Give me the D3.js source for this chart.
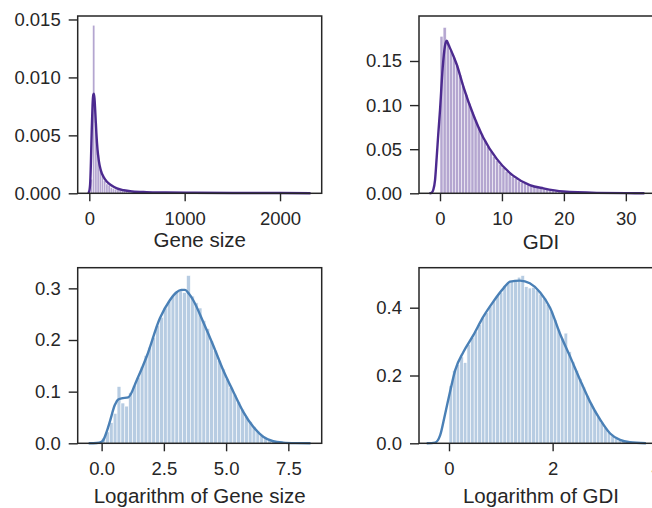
<!DOCTYPE html>
<html><head><meta charset="utf-8">
<script src="https://cdn.jsdelivr.net/npm/d3@7"></script>
<style>html,body{margin:0;padding:0;background:#fff;} svg{display:block;font-family:"Liberation Sans",Arial,sans-serif;}</style>
</head><body><div id="chart"></div>
<script>
// ---------------- DATA ----------------
// Panel 1: Gene size histogram (density), 100 bins
const geneSizeBinStart = 12;
const geneSizeBinWidth = 23.1;
const geneSizeHist = [
 0.0012, 0.0145, 0.0060, 0.0033, 0.0021, 0.0015, 0.0011, 0.0008, 0.0007, 0.0005,
 0.00042,0.00036,0.0003, 0.00026,0.00022,0.0002, 0.00018,0.00015,0.00013,0.00012,
 0.0001, 0.00009,0.00008,0.00008,0.00007,0.00006,0.00006,0.00005,0.00005,0.00004,
 0.00004,0.00004,0.00003,0.00003,0.00003,0.00003,0.00002,0.00002,0.00002,0.00002,
 0.00002,0.00002,0.00002,0.00002,0.00001,0.00001,0.00002,0.00001,0.00001,0.00001,
 0.00001,0.00001,0.00001,0.00001,0.00001,0.00001,0.00001,0.00001,0.00001,0.00001,
 0.00001,0.00001,0.00001,0.00001,0.00001,0.00001,0.00001,0.00001,0.00001,0.00001,
 0.00001,0.00001,0.00001,0.00001,0.00001,0.00001,0.00001,0.00001,0.00001,0.00001,
 0.00001,0.00001,0.00001,0.00001,0.00001,0.00001,0.00001,0.00001,0.00001,0.00001,
 0.00001,0.00001,0.00001,0.00001,0.00001,0.00001,0.00001,0.00001,0.00001,0.00002
];
const geneSizeKde = [
 [-12,0],[0,0.0002],[10,0.001],[18,0.0030],[26,0.0056],[34,0.0076],[42,0.0085],[49,0.0086],
 [56,0.0080],[64,0.0068],[74,0.0052],[86,0.0038],[100,0.0028],[120,0.0020],[150,0.0014],
 [185,0.0010],[230,0.0007],[290,0.00042],[360,0.00026],[450,0.00016],[600,0.0001],
 [800,0.00007],[1100,0.00005],[1500,0.00003],[2000,0.00002],[2320,0]
];
const geneSizeXTicks = [0, 1000, 2000];
const geneSizeYTicks = [0, 0.005, 0.010, 0.015];

// Panel 2: GDI histogram, 60 bins
const gdiBinStart = 0;
const gdiBinWidth = 0.5;
const gdiHist = [
 0.178,0.188,0.171,0.162,0.154,0.145,0.134,0.122,0.112,0.102,
 0.092,0.083,0.075,0.067,0.060,0.053,0.047,0.042,0.037,0.033,
 0.029,0.025,0.022,0.019,0.017,0.014,0.012,0.011,0.0095,0.0085,
 0.0075,0.0066,0.0058,0.0051,0.0044,0.0038,0.0033,0.0028,0.0024,0.0021,
 0.0018,0.0015,0.0013,0.0011,0.0010,0.0008,0.0007,0.0006,0.0005,0.0005,
 0.0004,0.0004,0.0003,0.0003,0.0002,0.0002,0.0002,0.0001,0.0001,0.0001
];
const gdiKde = [
 [-1.7,0],[-1.3,0.001],[-1.08,0.004],[-0.8,0.015],[-0.53,0.041],[-0.25,0.070],[0,0.094],
 [0.43,0.142],[0.8,0.167],[1.08,0.173],[1.4,0.168],[2.15,0.156],[2.7,0.146],[3.77,0.121],
 [5.38,0.089],[7.0,0.063],[9.16,0.039],[11.8,0.020],[14.5,0.0094],[16.7,0.0056],
 [19.9,0.0020],[25.3,0.0005],[30,0.0002],[33,0]
];
const gdiXTicks = [0, 10, 20, 30];
const gdiYTicks = [0, 0.05, 0.10, 0.15];

// Panel 3: Logarithm of Gene size, 50 bins
const logGeneBinStart = 0;
const logGeneBinWidth = 0.155;
const logGeneHist = [
 0.010,0.022,0.040,0.058,0.110,0.078,0.072,0.098,0.112,0.128,
 0.148,0.170,0.186,0.205,0.228,0.244,0.262,0.275,0.286,0.294,
 0.296,0.292,0.325,0.285,0.272,0.262,0.238,0.222,0.198,0.180,
 0.160,0.144,0.125,0.108,0.094,0.080,0.066,0.052,0.042,0.032,
 0.024,0.016,0.011,0.007,0.005,0.003,0.002,0.0015,0.001,0.0008
];
const logGeneKde = [
 [-0.52,0],[-0.2,0.0005],[0,0.003],[0.07,0.0064],[0.2,0.022],[0.33,0.042],[0.53,0.074],
 [0.67,0.085],[0.8,0.087],[1.07,0.089],[1.41,0.122],[1.81,0.168],[2.34,0.242],[2.74,0.277],
 [3.0,0.292],[3.2,0.297],[3.35,0.297],[3.5,0.290],[3.68,0.277],[4.08,0.235],[4.48,0.190],
 [4.88,0.142],[5.29,0.100],[5.69,0.061],[6.09,0.032],[6.49,0.0128],[6.89,0.004],
 [7.29,0.0013],[7.8,0.0003],[8.39,0]
];
const logGeneXTicks = [0, 2.5, 5.0, 7.5];
const logGeneYTicks = [0, 0.1, 0.2, 0.3];

// Panel 4: Logarithm of GDI, 50 bins
const logGdiBinStart = 0;
const logGdiBinWidth = 0.0694;
const logGdiHist = [
 0.170,0.215,0.232,0.255,0.238,0.292,0.312,0.330,0.350,0.370,
 0.385,0.405,0.420,0.435,0.445,0.465,0.475,0.480,0.482,0.490,
 0.495,0.462,0.458,0.460,0.452,0.440,0.428,0.410,0.390,0.365,
 0.335,0.310,0.325,0.270,0.240,0.215,0.190,0.165,0.140,0.118,
 0.098,0.078,0.062,0.046,0.033,0.022,0.014,0.008,0.005,0.003
];
const logGdiKde = [
 [-0.43,0],[-0.27,0.002],[-0.17,0.024],[-0.08,0.083],[0.02,0.152],[0.12,0.216],[0.28,0.270],
 [0.47,0.319],[0.66,0.373],[0.855,0.418],[1.05,0.457],[1.18,0.477],[1.37,0.480],[1.56,0.472],
 [1.76,0.445],[1.95,0.400],[2.14,0.324],[2.34,0.255],[2.53,0.187],[2.72,0.123],[2.92,0.069],
 [3.11,0.029],[3.3,0.010],[3.49,0.003],[3.8,0]
];
const logGdiXTicks = [0, 2, 4];
const logGdiYTicks = [0, 0.2, 0.4];

// ---------------- DRAW ----------------
const W = 652, H = 508;
const INK = "#262626";
const svg = d3.select("#chart").append("svg").attr("width", W).attr("height", H);

function panel(c) {
  const x = d3.scaleLinear().domain(c.xDomain).range([c.left, c.right]);
  const y = d3.scaleLinear().domain(c.yDomain).range([c.bottom, c.top]);
  const g = svg.append("g");
  const bins = c.hist.map((v, i) => ({ x0: c.binStart + i * c.binWidth, x1: c.binStart + (i + 1) * c.binWidth, v }));
  g.append("g").selectAll("rect").data(bins).join("rect")
    .attr("x", d => x(d.x0)).attr("width", d => Math.max(0, x(d.x1) - x(d.x0)))
    .attr("y", d => y(d.v)).attr("height", d => y(0) - y(d.v))
    .attr("fill", c.color).attr("fill-opacity", c.barOpacity)
    .attr("stroke", "#fff").attr("stroke-width", c.barStroke);
  const line = d3.line().x(d => x(d[0])).y(d => y(d[1])).curve(d3.curveMonotoneX);
  g.append("path").datum(c.kde).attr("d", line)
    .attr("fill", "none").attr("stroke", c.color).attr("stroke-width", 2.4)
    .attr("stroke-linejoin", "round");
  // frame
  g.append("rect").attr("x", c.left).attr("y", c.top)
    .attr("width", c.right - c.left).attr("height", c.bottom - c.top)
    .attr("fill", "none").attr("stroke", INK).attr("stroke-width", 1.5);
  const ya = g.append("g").attr("transform", `translate(${c.left},0)`)
    .call(d3.axisLeft(y).tickValues(c.yTicks).tickFormat(d3.format(c.yFmt)).tickSize(9).tickPadding(8));
  const xa = g.append("g").attr("transform", `translate(0,${c.bottom})`)
    .call(d3.axisBottom(x).tickValues(c.xTicks).tickFormat(d3.format(c.xFmt)).tickSize(8).tickPadding(11));
  [ya, xa].forEach(a => {
    a.select(".domain").remove();
    a.selectAll("line").attr("stroke", INK).attr("stroke-width", 1.4);
    a.selectAll("text").attr("fill", INK).style("font-size", "18.5px")
      .style("font-family", '"Liberation Sans", Arial, sans-serif');
  });
  g.append("text").attr("x", (c.left + c.right) / 2).attr("y", c.labelY)
    .attr("text-anchor", "middle").attr("fill", INK)
    .style("font-size", "20.5px").text(c.label);
}

const purple = "#4c2a8f", blue = "#4a80b6";

panel({ left: 77.7, right: 321.7, top: 16, bottom: 193.3,
  xDomain: [-121.7, 2437], yDomain: [0, 0.0153],
  hist: geneSizeHist, binStart: geneSizeBinStart, binWidth: geneSizeBinWidth, kde: geneSizeKde,
  xTicks: geneSizeXTicks, yTicks: geneSizeYTicks, xFmt: "d", yFmt: ".3f",
  color: purple, barOpacity: 0.42, barStroke: 0.4, label: "Gene size", labelY: 247 });

panel({ left: 419, right: 663, top: 16, bottom: 193.3,
  xDomain: [-3.39, 36.0], yDomain: [0, 0.201],
  hist: gdiHist, binStart: gdiBinStart, binWidth: gdiBinWidth, kde: gdiKde,
  xTicks: gdiXTicks, yTicks: gdiYTicks, xFmt: "d", yFmt: ".2f",
  color: purple, barOpacity: 0.42, barStroke: 0.5, label: "GDI", labelY: 249 });

panel({ left: 77.7, right: 321.7, top: 267.7, bottom: 443.3,
  xDomain: [-0.961, 8.84], yDomain: [0, 0.34],
  hist: logGeneHist, binStart: logGeneBinStart, binWidth: logGeneBinWidth, kde: logGeneKde,
  xTicks: logGeneXTicks, yTicks: logGeneYTicks, xFmt: ".1f", yFmt: ".1f",
  color: blue, barOpacity: 0.4, barStroke: 0.6, label: "Logarithm of Gene size", labelY: 503 });

panel({ left: 419, right: 663, top: 267.7, bottom: 443.3,
  xDomain: [-0.579, 4.13], yDomain: [0, 0.518],
  hist: logGdiHist, binStart: logGdiBinStart, binWidth: logGdiBinWidth, kde: logGdiKde,
  xTicks: logGdiXTicks, yTicks: logGdiYTicks, xFmt: "d", yFmt: ".1f",
  color: blue, barOpacity: 0.4, barStroke: 0.6, label: "Logarithm of GDI", labelY: 503 });
</script>
</body></html>
